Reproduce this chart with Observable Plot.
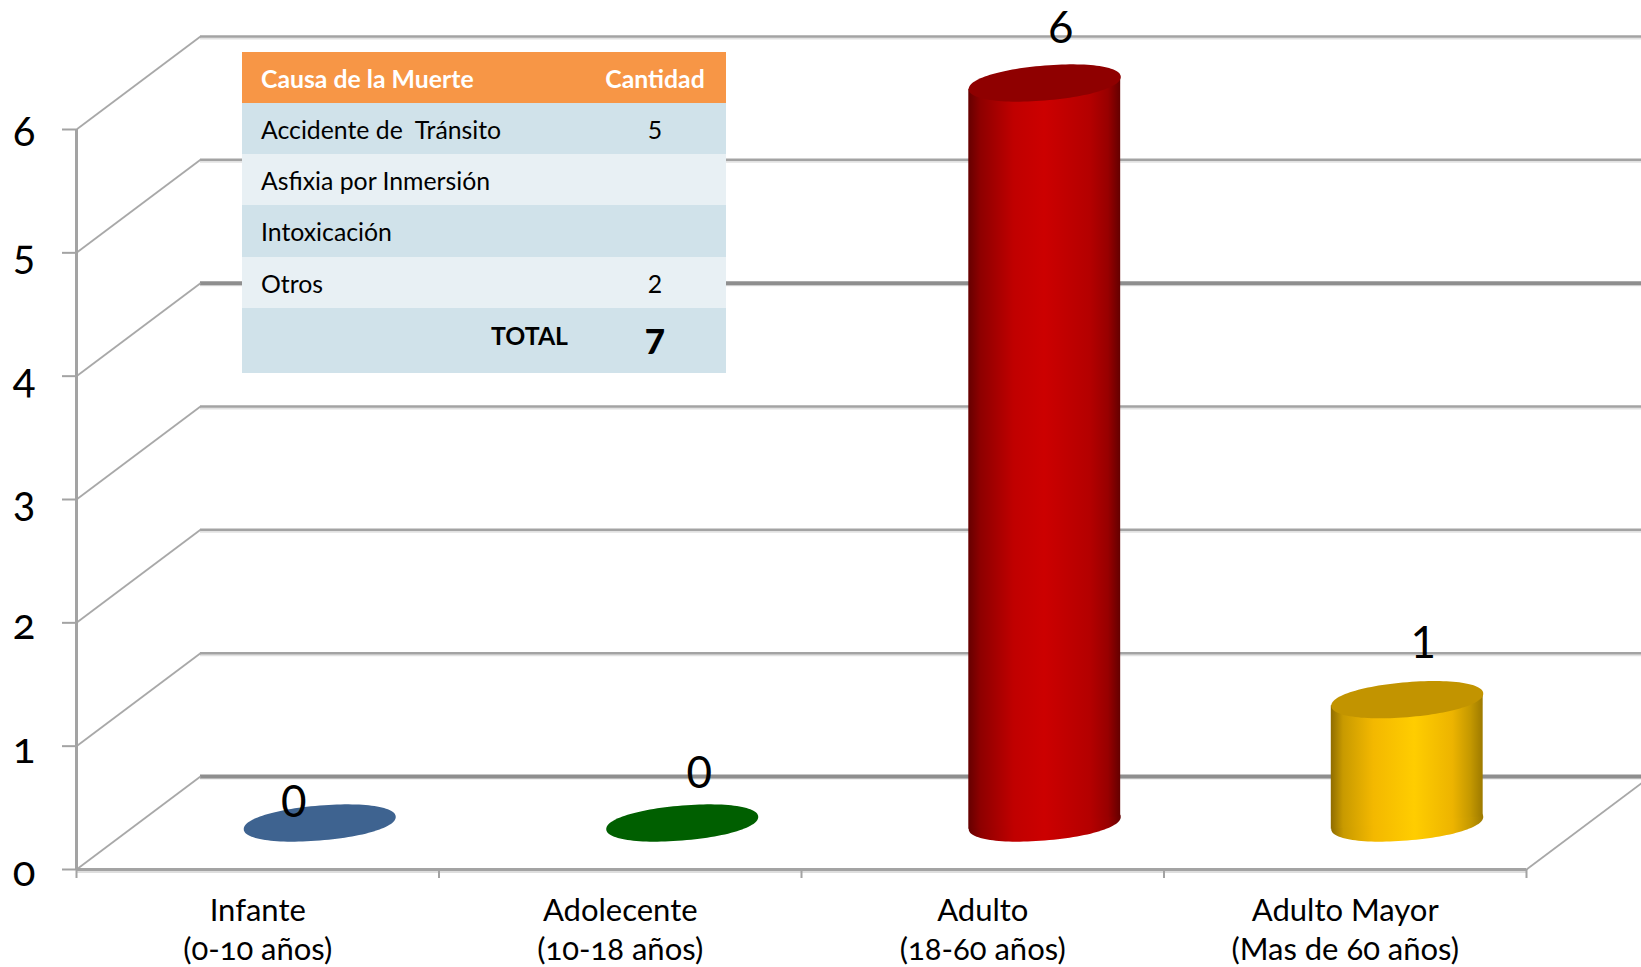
<!DOCTYPE html>
<html>
<head>
<meta charset="utf-8">
<script src="https://cdn.jsdelivr.net/npm/d3@7"></script>
<script src="https://cdn.jsdelivr.net/npm/@observablehq/plot@0.6"></script>
<style>
html,body{margin:0;padding:0;background:#fff;overflow:hidden}
#wrap{position:relative;width:1641px;height:967px}
#tabla{position:absolute;left:242px;top:52px;width:484px;border-collapse:collapse;table-layout:fixed;font-family:Lato,sans-serif;font-size:24.8px;color:#000}
#tabla td{padding:1px 0 0 0;white-space:pre;vertical-align:middle;box-sizing:border-box}
#tabla td:first-child{padding-left:19px}
#tabla td:last-child{text-align:center;width:144px;padding-left:2px}
#tabla tr{height:51px}
#tabla tr.head{background:#f79646;color:#fff;font-weight:700}
#tabla tr.a{background:#d0e2ea}
#tabla tr.b{background:#e8f0f4}
#tabla tr.total{height:65px;background:#d0e2ea;font-weight:700}
</style>
</head>
<body>
<div id="wrap"></div>
<script>
const categories = ["Infante\n(0-10 años)", "Adolecente\n(10-18 años)", "Adulto\n(18-60 años)", "Adulto Mayor\n(Mas de 60 años)"];
const values = [0, 0, 6, 1];
const yTicks = [0, 1, 2, 3, 4, 5, 6];
const xTicks = [0, 1, 2, 3, 4];
const capColors = ["#3e6390", "#005f00", "#8f0000", "#c29400"];
const heavyGrid = [0, 4];

const tableHead = ["Causa de la Muerte", "Cantidad"];
const causes = ["Accidente de  Tránsito", "Asfixia por Inmersión", "Intoxicación", "Otros"];
const causeCounts = ["5", "", "", "2"];
const totalLabel = "TOTAL";
const totalValue = "7";

// depth of the 3D floor, in data units
const depthX = 0.342, depthY = 0.754;
const idx = d3.range(categories.length);
const cx = i => i + 0.5 + depthX / 2;
const cy = v => v + depthY / 2;
const barHalf = 0.2095;
const skew = 0.05; // tilt of the cylinder ends, in y units
const font = "Lato, sans-serif";

const discSymbol = {
  draw(ctx, size) {
    const R = Math.sqrt(size / Math.PI);
    const pow = (a, e) => Math.sign(a) * Math.pow(Math.abs(a), e);
    for (let k = 0; k <= 120; k++) {
      const t = (k / 120) * 2 * Math.PI;
      const c = pow(Math.cos(t), 0.95), s = pow(Math.sin(t), 0.95);
      const x = R * c;
      const y = R * (-0.08 * c + 0.23 * s);
      k ? ctx.lineTo(x, y) : ctx.moveTo(x, y);
    }
    ctx.closePath();
  }
};
const discR = 76;

const cylinderMarks = idx.flatMap(i => {
  const v = values[i], marks = [];
  if (v > 0) {
    marks.push(Plot.dot([i], {x: cx, y: () => cy(0), r: discR, symbol: discSymbol, fill: `url(#g${i})`, stroke: "none"}));
    marks.push(Plot.areaY([-1, 1], {
      x: s => cx(i) + s * barHalf,
      y1: s => cy(0) + s * skew,
      y2: s => cy(v) + s * skew,
      fill: `url(#g${i})`
    }));
  }
  marks.push(Plot.dot([i], {x: cx, y: () => cy(v), r: discR, symbol: discSymbol, fill: capColors[i], stroke: "none"}));
  return marks;
});

const label = (i, dx, dy) => Plot.text([i], {
  x: cx, y: d => cy(values[d]), text: d => String(values[d]),
  dx, dy, fontSize: 44, fontFamily: font, fill: "#000"
});

const gridLine = v => heavyGrid.includes(v) ? {stroke: "#8e8e8e", strokeWidth: 4} : {stroke: "#a3a3a3", strokeWidth: 2.5};

const plot = Plot.plot({
  width: 1641, height: 967,
  marginLeft: 76, marginRight: 115, marginTop: 129, marginBottom: 98,
  x: {domain: [0, 4]},
  y: {domain: [0, 6]},
  style: {background: "#fff", overflow: "hidden"},
  marks: [
    // shadow below back wall lines
    ...yTicks.map(v => Plot.ruleY([v + depthY], {x1: depthX, x2: 4 + depthX, dy: 2, stroke: "#e2e2e2", strokeWidth: 2})),
    ...yTicks.map(v => Plot.ruleY([v + depthY], {x1: depthX, x2: 4 + depthX, ...gridLine(v)})),
    // depth lines
    Plot.link(yTicks, {x1: 0, y1: d => d, x2: depthX, y2: d => d + depthY, stroke: "#a8a8a8", strokeWidth: 1.8}),
    Plot.link([0], {x1: 4, y1: 0, x2: 4 + depthX, y2: depthY, stroke: "#a8a8a8", strokeWidth: 1.8}),
    // floor front edge + shadow
    Plot.ruleY([0], {x1: 0, x2: 4, dy: 2.5, stroke: "#dedede", strokeWidth: 2}),
    Plot.ruleY([0], {x1: 0, x2: 4, stroke: "#a3a3a3", strokeWidth: 3}),
    Plot.ruleX([0], {y1: 0, y2: 6, stroke: "#a3a3a3", strokeWidth: 3}),
    Plot.axisY({ticks: yTicks, tickSize: 14, stroke: "#a3a3a3", strokeWidth: 2, tickFormat: () => "", label: null}),
    Plot.axisY({ticks: yTicks, tickSize: 0, tickPadding: 41, dy: 3, fontSize: 42, fontFamily: font, fontVariant: "oldstyle-nums", fill: "#000", label: null, tickFormat: d => String(d)}),
    Plot.axisX({ticks: xTicks, tickSize: 9, stroke: "#a3a3a3", strokeWidth: 2, tickFormat: () => "", label: null}),
    ...cylinderMarks,
    label(0, -26, -20.5),
    label(1, 17, -49.5),
    label(2, 16, -54.5),
    label(3, 16, -55.5),
    Plot.text(idx, {
      x: d => d + 0.5, y: 0, text: d => categories[d], dy: 58.5, lineHeight: 1.24, lineAnchor: "middle",
      fontSize: 31, fontFamily: font, fontVariant: "oldstyle-nums", fill: "#000"
    })
  ]
});

// cylinder shading
const gradientStops = {
  2: [[0, "#650000"], [0.08, "#8e0000"], [0.3, "#c00000"], [0.5, "#cc0000"], [0.8, "#b40000"], [0.92, "#980000"], [1, "#640000"]],
  3: [[0, "#8f6c00"], [0.08, "#c89a00"], [0.28, "#f3b800"], [0.55, "#ffcd00"], [0.8, "#edb400"], [0.92, "#c49800"], [1, "#9d7a00"]]
};
const defs = d3.select(plot).insert("defs", ":first-child");
Object.entries(gradientStops).forEach(([i, stops]) => {
  const g = defs.append("linearGradient").attr("id", "g" + i);
  stops.forEach(([o, c]) => g.append("stop").attr("offset", o).attr("stop-color", c));
});

const wrap = document.getElementById("wrap");
wrap.appendChild(plot);

// overlay table
const table = d3.select(wrap).append("table").attr("id", "tabla");
const addRow = (cls, a, b) => {
  const tr = table.append("tr").attr("class", cls);
  tr.append("td").text(a);
  tr.append("td").text(b);
  return tr;
};
addRow("head", tableHead[0], tableHead[1]);
causes.forEach((c, i) => addRow(i % 2 ? "b" : "a", c, causeCounts[i]).style("height", i === 2 ? "52px" : null));
const tot = addRow("total", totalLabel, totalValue);
tot.select("td:first-child").style("text-align", "right").style("padding-right", "14px").style("padding-bottom", "11px");
tot.select("td:last-child").style("font-size", "35px").style("font-weight", "900").style("padding-bottom", "2px");
</script>
</body>
</html>
